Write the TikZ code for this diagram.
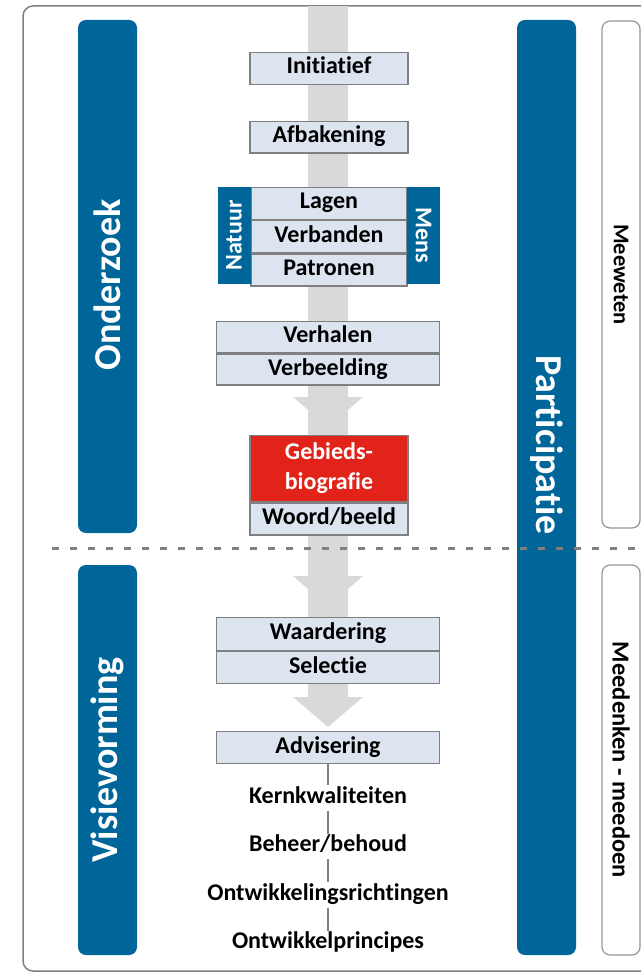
\documentclass[tikz,border=0pt]{standalone}
\usepackage{fontspec}
\setmainfont{Carlito}[Ligatures=NoCommon]
\usetikzlibrary{positioning,calc}

\definecolor{barblue}{RGB}{0,102,153}
\definecolor{stepfill}{RGB}{220,228,240}
\definecolor{stepline}{RGB}{128,128,128}
\definecolor{flowgray}{RGB}{217,217,217}
\definecolor{bioRed}{RGB}{226,35,26}
\definecolor{voiceline}{RGB}{150,150,150}

% grey arrow head of the flow band, top edge at #1
\newcommand{\flowhead}[1]{\fill[flowgray] (293,#1) -- (363,#1) -- (328,{#1+30}) -- cycle;}

\begin{document}
\begin{tikzpicture}[
        x=1pt, y=-1pt,
        node distance=0pt,
        every node/.style={inner sep=0pt, font=\bfseries\fontsize{24}{30}\selectfont},
        boxbase/.style={draw=stepline, fill=stepfill, line width=1.3pt, minimum width=158pt, minimum height=31.5pt},
        stage/.style={boxbase, text height=15pt, text depth=4pt},
        widebox/.style={minimum width=223pt, minimum height=31pt},
        phase/.style={fill=barblue, rounded corners=8pt, minimum width=59pt},
        phasetext/.style={text=white, font=\bfseries\fontsize{38}{38}\selectfont},
        aspect/.style={fill=barblue, text=white, minimum height=33pt, minimum width=97pt},
        voice/.style={draw=voiceline, fill=white, line width=1.2pt, rounded corners=8pt, minimum width=38pt},
        voicetext/.style={font=\bfseries\fontsize{22.5}{22.5}\selectfont},
        outcome/.style={text height=15pt, text depth=4pt, inner sep=3pt},
        branch/.style={draw=stepline, line width=1.2pt}
      ]
        \useasboundingbox (0,0) rectangle (641,973);
        \clip (0,0) rectangle (641,973);

        % outer frame
        \draw[stepline, line width=1.5pt, rounded corners=10pt] (23,6) rectangle (670,971);

        % flow band with arrow heads
        \fill[flowgray] (308,6) rectangle (348,697);
        \flowhead{397}
        \flowhead{576}
        \flowhead{697}

        % phase bars left and right
        \node[phase, minimum height=513pt] (onderzoek) at (107.5,276.5) {};
        \node[phase, minimum height=390pt] (visie) at (107.5,760) {};
        \node[phase, minimum height=935pt] (particip) at (546.5,487.5) {};
        \node[phasetext, rotate=90] at (107.5,285) {Onderzoek};
        \node[phasetext, rotate=90] at (107.5,760) {Visievorming};
        \node[phasetext, rotate=-90] at (546.5,445) {Participatie};

        % participation levels
        \node[voice, minimum height=507pt] (meeweten) at (621,274.5) {};
        \node[voice, minimum height=390pt] (meedenken) at (621,760) {};
        \node[voicetext, rotate=-90] at (meeweten) {Meeweten};
        \node[voicetext, font=\bfseries\fontsize{24.5}{24.5}\selectfont, rotate=-90] at (meedenken) {Meedenken - meedoen};

        % research steps
        \node[stage] (init) at (329,68.5) {Initiatief};
        \node[stage, below=36pt of init] (afbak) {Afbakening};

        \node[stage, minimum width=156pt, minimum height=32pt] (lagen) at (329,203.5) {Lagen};
        \node[stage, minimum width=156pt, minimum height=32pt, below=of lagen] (verband) {Verbanden};
        \node[stage, minimum width=156pt, minimum height=32pt, below=of verband] (patronen) {Patronen};
        \node[aspect, rotate=90] (natuur) at (234,235.5) {Natuur};
        \node[aspect, rotate=-90] (mens) at (423.5,235.5) {Mens};

        \node[stage, widebox] (verhalen) at (328,337.2) {Verhalen};
        \node[stage, widebox, below=of verhalen] (verbeeld) {Verbeelding};

        \node[boxbase, fill=bioRed, text=white, minimum height=66pt, align=center] (bio) at (329,468.6) {Gebieds-\\biografie};
        \node[stage, minimum height=32pt, below=of bio] (woord) {Woord/beeld};

        % vision steps
        \node[stage, widebox, minimum height=32.5pt] (waard) at (328,634) {Waardering};
        \node[stage, widebox, minimum height=32pt, below=of waard] (selectie) {Selectie};
        \node[stage, widebox, minimum height=31.5pt] (advis) at (328,747.5) {Advisering};

        \node[outcome] (kern) at (328,798) {Kernkwaliteiten};
        \node[outcome, below=23pt of kern] (beheer) {Beheer/behoud};
        \node[outcome, below=23pt of beheer] (richting) {Ontwikkelingsrichtingen};
        \node[outcome, below=23pt of richting] (princip) {Ontwikkelprincipes};

        \path[every edge/.style={branch}]
        (advis) edge (kern)
        (kern) edge (beheer)
        (beheer) edge (richting)
        (richting) edge (princip);

        % border between research and vision
        \draw[stepline, line width=3pt, dash pattern=on 7pt off 11pt] (52,548) -- (670,548);
    \end{tikzpicture}
\end{document}
